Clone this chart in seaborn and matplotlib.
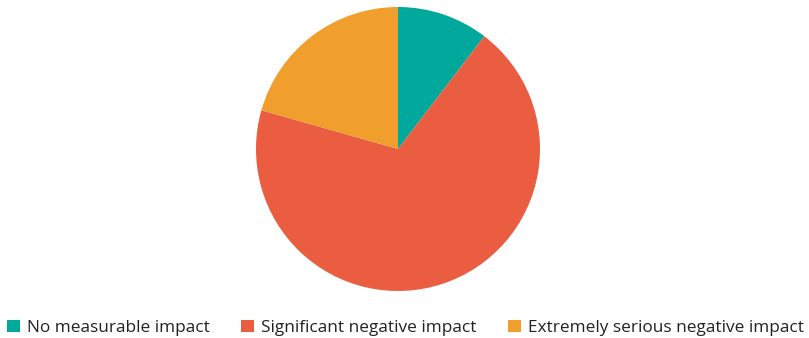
import matplotlib
matplotlib.use("Agg")
import matplotlib.pyplot as plt
import seaborn as sns
from matplotlib.patches import Patch

categories = ["No measurable impact", "Significant negative impact", "Extremely serious negative impact"]
values = [10.4, 69.0, 20.6]
colors = ["#01a99d", "#ea5d40", "#f09f2d"]

sns.set_style("white")
plt.rcParams["font.family"] = ["Open Sans", "DejaVu Sans"]

W, H = 809, 338
fig = plt.figure(figsize=(W / 100, H / 100), dpi=100)
ax = fig.add_axes([256 / W, 47 / H, 284 / W, 284 / H])
pal = sns.color_palette(colors)
ax.pie(values, colors=pal, startangle=90, counterclock=False, radius=1,
       wedgeprops=dict(linewidth=0))
ax.set_xlim(-1, 1)
ax.set_ylim(-1, 1)
ax.set_aspect("equal")
ax.axis("off")

handles = [Patch(facecolor=c, edgecolor="none") for c in pal]
leg = fig.legend(handles, categories, loc="center left", bbox_to_anchor=(7 / W, 10 / H),
                 ncol=3, frameon=False, fontsize=12.4, handlelength=0.74, handleheight=0.74,
                 handletextpad=0.4, columnspacing=1.85, borderpad=0, borderaxespad=0)
for t in leg.get_texts():
    t.set_color("#222222")

fig.savefig("out.png", dpi=100)
